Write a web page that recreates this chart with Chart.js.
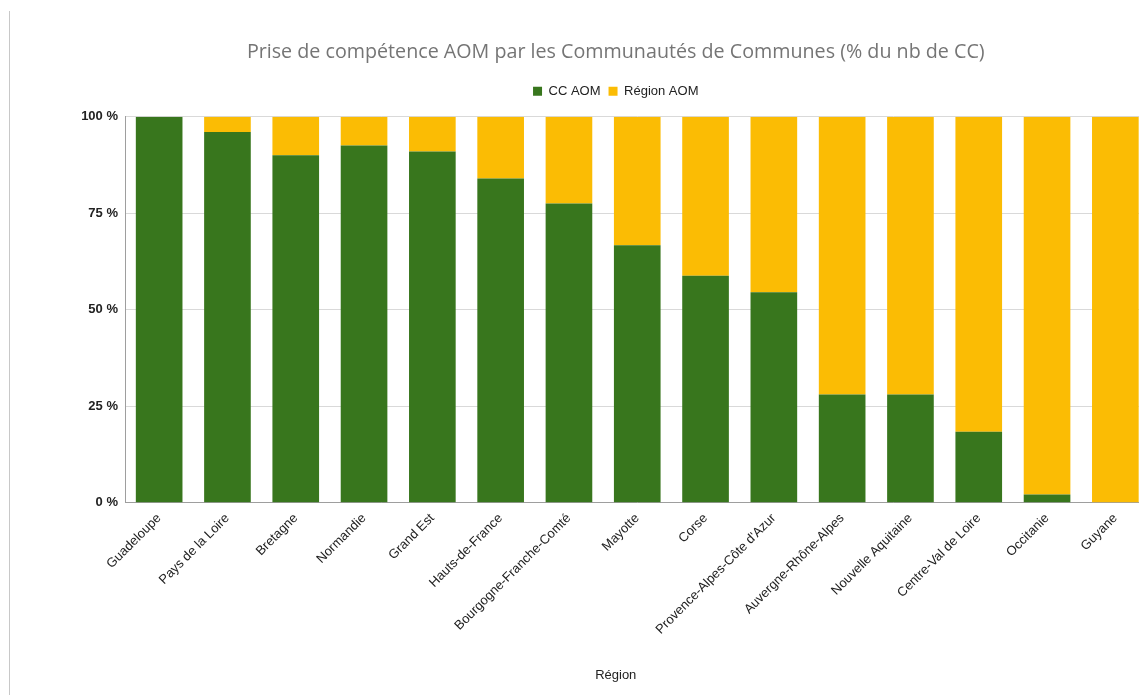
<!DOCTYPE html>
<html>
<head>
<meta charset="utf-8">
<script src="https://cdn.jsdelivr.net/npm/chart.js@4/dist/chart.umd.min.js"></script>
<style>
  html, body { margin: 0; padding: 0; background: #fff; overflow: hidden; }
  #edge { position: absolute; left: 9px; top: 11px; height: 684px; width: 1px; background: #c8c8c8; }
  #wrap { position: absolute; left: 10px; top: 0; width: 1212px; height: 695px; }
</style>
</head>
<body>
<div id="edge"></div>
<div id="wrap">
  <canvas id="chart"></canvas>
</div>
<script>
const regions = ['Guadeloupe', 'Pays de la Loire', 'Bretagne', 'Normandie', 'Grand Est',
  'Hauts-de-France', 'Bourgogne-Franche-Comté', 'Mayotte', 'Corse', "Provence-Alpes-Côte d'Azur",
  'Auvergne-Rhône-Alpes', 'Nouvelle Aquitaine', 'Centre-Val de Loire', 'Occitanie', 'Guyane'];
const ccAom = [100, 96, 90, 92.5, 91, 84, 77.5, 66.7, 58.8, 54.5, 28, 28, 18.4, 2.1, 0];
const regionAom = [0, 4, 10, 7.5, 9, 16, 22.5, 33.3, 41.2, 45.5, 72, 72, 81.6, 97.9, 100];
const yTicks = [0, 25, 50, 75, 100];

// un peu d'espace entre la légende et le graphique
const legendGap = {
  id: 'legendGap',
  beforeInit(chart) {
    const fit = chart.legend.fit;
    chart.legend.fit = function () {
      fit.bind(chart.legend)();
      this.height += 9;
    };
  }
};

new Chart(document.getElementById('chart'), {
  type: 'bar',
  data: {
    labels: regions,
    datasets: [
      { label: 'CC AOM', data: ccAom, backgroundColor: '#38761d', barPercentage: 0.683, categoryPercentage: 1 },
      { label: 'Région AOM', data: regionAom, backgroundColor: '#fbbc04', barPercentage: 0.683, categoryPercentage: 1 }
    ]
  },
  plugins: [legendGap],
  options: {
    responsive: true,
    maintainAspectRatio: false,
    animation: false,
    layout: { padding: { left: 72, right: 72.5, top: 31, bottom: 8 } },
    plugins: {
      title: {
        display: true,
        text: 'Prise de compétence AOM par les Communautés de Communes (% du nb de CC)',
        color: '#757575',
        font: { family: 'Open Sans', size: 19.7, weight: 'normal' },
        padding: { top: 10, bottom: 12 }
      },
      subtitle: {
        display: true,
        position: 'bottom',
        text: 'Région',
        color: '#222',
        font: { family: 'Liberation Sans', size: 13 },
        padding: { top: 30, bottom: 4 }
      },
      legend: {
        labels: {
          boxWidth: 9, boxHeight: 9, color: '#222',
          font: { family: 'Liberation Sans', size: 13 }, padding: 8
        }
      },
      tooltip: { enabled: false }
    },
    scales: {
      x: {
        stacked: true,
        grid: { display: false },
        border: { color: '#9e9e9e' },
        ticks: { color: '#222', font: { family: 'Liberation Sans', size: 13 }, padding: 0,
          minRotation: 45, maxRotation: 45, autoSkip: false }
      },
      y: {
        stacked: true,
        min: 0, max: 100,
        afterBuildTicks: axis => { axis.ticks = yTicks.map(v => ({ value: v })); },
        afterFit: axis => { axis.width = 43; },
        grid: { color: '#d9d9d9', drawTicks: false },
        border: { color: '#9e9e9e' },
        ticks: { color: '#222', padding: 7, font: { family: 'Liberation Sans', size: 13, weight: 'bold' },
          callback: v => v + ' %' }
      }
    }
  }
});
</script>
</body>
</html>
